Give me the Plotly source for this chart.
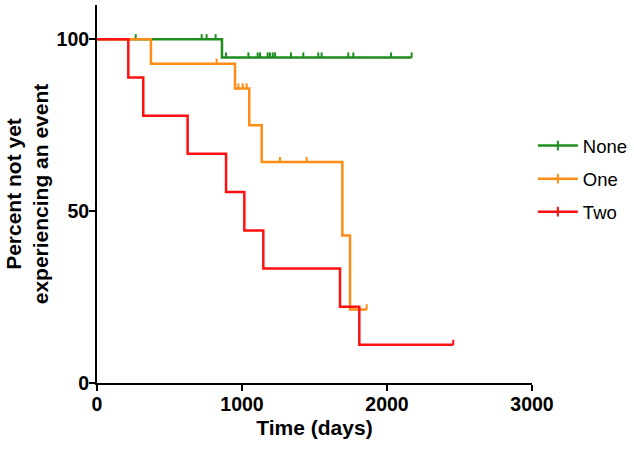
import numpy as np
import plotly.graph_objects as go

# ---- data ----
series_names = ["None", "One", "Two"]

none_t = [0, 862, 2170]
none_s = [100, 94.7, 94.7]
none_cens = [267, 722, 756, 818, 890, 1044, 1108, 1124, 1177, 1193, 1212, 1228,
             1338, 1423, 1526, 1549, 1733, 1768, 2028, 2170]

one_t = [0, 372, 952, 1050, 1136, 1692, 1745, 1860]
one_s = [100, 92.9, 85.7, 75.0, 64.3, 42.9, 21.4, 21.4]
one_cens = [825, 975, 1005, 1032, 1262, 1446, 1860]

two_t = [0, 216, 319, 625, 890, 1016, 1147, 1676, 1809, 2457]
two_s = [100, 88.9, 77.8, 66.7, 55.6, 44.4, 33.3, 22.2, 11.1, 11.1]
two_cens = [2457]

x_ticks = [0, 1000, 2000, 3000]
y_ticks = [0, 50, 100]

colors = ["#1E8C1E", "#FF8C14", "#FF1010"]

FONT = "Liberation Sans, Arial, sans-serif"

fig = go.Figure()

curves = [(none_t, none_s, none_cens), (one_t, one_s, one_cens), (two_t, two_s, two_cens)]
TICK_H = 1.5

for name, (t, s, cens), col in zip(series_names, curves, colors):
    fig.add_trace(go.Scatter(x=t, y=s, mode="lines", line=dict(color=col, width=2.5, shape="hv"),
                             showlegend=False, legendgroup=name, hoverinfo="skip"))
    ta = np.array(t)
    sa = np.array(s)
    cx, cy = [], []
    for c in cens:
        idx = np.searchsorted(ta, c, side="right") - 1
        lvl = sa[idx]
        cx += [c, c, None]
        cy += [lvl, lvl + TICK_H, None]
    fig.add_trace(go.Scatter(x=cx, y=cy, mode="lines", line=dict(color=col, width=2),
                             showlegend=False, legendgroup=name, hoverinfo="skip"))
    fig.add_trace(go.Scatter(x=[None], y=[None], mode="lines+markers", name=name,
                             legendgroup=name,
                             line=dict(color=col, width=2.5),
                             marker=dict(symbol="line-ns", size=7, color=col,
                                         line=dict(color=col, width=2))))

fig.update_layout(
    width=634, height=451,
    margin=dict(l=97, r=102, t=5, b=68, autoexpand=False),
    plot_bgcolor="white", paper_bgcolor="white",
    font=dict(family=FONT, color="black"),
    legend=dict(x=1.002, y=0.677, xanchor="left", yanchor="top",
                font=dict(size=18.5, family=FONT, color="black"),
                itemwidth=40,
                tracegroupgap=6, bgcolor="rgba(0,0,0,0)"),
)

fig.update_xaxes(range=[0, 3000], tickvals=x_ticks, ticks="outside", ticklen=6, tickwidth=2,
                 tickcolor="black", showline=True, linecolor="black", linewidth=2,
                 showgrid=False, zeroline=False, automargin=False,
                 ticklabelstandoff=-3,
                 tickfont=dict(size=19.5, family=FONT, weight="bold"),
                 title=dict(text="<b>Time (days)</b>", font=dict(size=21, family=FONT), standoff=6))
fig.update_yaxes(range=[0, 110], tickvals=y_ticks, ticks="outside", ticklen=6, tickwidth=2,
                 tickcolor="black", showline=True, linecolor="black", linewidth=2,
                 showgrid=False, zeroline=False, automargin=False,
                 ticklabelstandoff=-4,
                 tickfont=dict(size=19.5, family=FONT, weight="bold"),
                 title=dict(text="<b>Percent not yet<br>experiencing an event</b>",
                            font=dict(size=21, family=FONT), standoff=2))

fig.write_html("out.html", config={"displayModeBar": False},
               post_script="document.body.style.margin='0';")
